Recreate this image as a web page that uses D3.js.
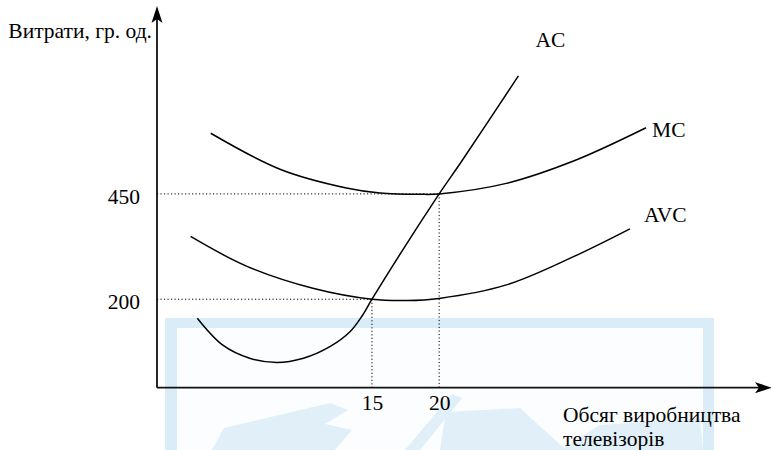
<!DOCTYPE html>
<html><head><meta charset="utf-8">
<script src="https://cdn.jsdelivr.net/npm/d3@7"></script>
<style>
body{margin:0;background:#fff}
svg{display:block;font-family:"Liberation Serif","DejaVu Serif",serif}
</style></head><body>
<div class="container"></div>
<script>
// values (quantity -> cost)
var mcQ  = [3, 8.2, 13.1, 15.6, 18.6, 20, 25, 30, 35.4];
var mcC  = [594, 508, 464, 452, 449, 450, 475, 528, 607];
var avcQ = [1.5, 5.7, 10.6, 15, 17.6, 20, 25, 30, 34.2];
var avcC = [349, 278, 226, 200, 197, 202, 234, 301, 367];
var acQ  = [2, 3.9, 5.9, 7.9, 9.9, 11.9, 13.4, 14.3, 15, 20, 21.6, 25.9];
var acC  = [155, 91, 60, 50, 60, 88, 124, 162, 200, 450, 524, 730];
var xTicks = [15, 20];
var yTicks = [200, 450];
var curveNames = ["MC", "AVC", "AC"];

var W = 771, H = 450;
var x = d3.scaleLinear().domain([-1, 44.7]).range([157, 771]);
var y = d3.scaleLinear().domain([-10, 896]).range([387.7, 6]);

function drawSVG(){
	return d3.select(".container").append("svg")
		.attr("width", W).attr("height", H);
}
var svg = drawSVG();

// faint watermark behind the chart
var wm = svg.append("g").attr("class", "watermark");
wm.append("rect").attr("x", 165).attr("y", 318).attr("width", 549).attr("height", 140)
	.attr("fill", "#d9ecf7");
wm.append("rect").attr("x", 177).attr("y", 328).attr("width", 526).attr("height", 130)
	.attr("fill", "#fbfdfe");
var blobs = [
	[[212,450],[224,428],[330,403],[348,410],[325,424],[352,430],[335,450]],
	[[405,450],[452,394],[462,398],[420,450]],
	[[440,450],[446,412],[520,408],[566,450]],
	[[560,450],[600,425],[700,418],[703,450]]
];
wm.selectAll("polygon").data(blobs).enter().append("polygon")
	.attr("points", function(d){ return d.join(" "); })
	.attr("fill", "#e0eff8");

// dotted guide lines
var guides = svg.append("g").attr("class", "guides")
	.attr("stroke", "#000").attr("stroke-width", 1).attr("stroke-dasharray", "1.2,2.3");
xTicks.forEach(function(q, i){
	var c = yTicks[i];
	guides.append("line").attr("x1", x(-1)).attr("x2", x(q)).attr("y1", y(c)).attr("y2", y(c));
	guides.append("line").attr("x1", x(q)).attr("x2", x(q)).attr("y1", y(c)).attr("y2", y(-10));
});

// curves
var line = d3.line().x(function(d){return x(d[0]);}).y(function(d){return y(d[1]);})
	.curve(d3.curveCatmullRom.alpha(0.5));
var series = [d3.zip(mcQ, mcC), d3.zip(avcQ, avcC), d3.zip(acQ, acC)];
svg.append("g").selectAll("path").data(series).enter().append("path")
	.attr("d", line).attr("fill", "none").attr("stroke", "#000").attr("stroke-width", 1.5);

// curve labels next to the last point of each curve
var labelOff = [[6, 9], [14, -7], [17, -29]];
svg.append("g").selectAll("text").data(series).enter().append("text")
	.attr("x", function(d, i){ return x(d[d.length-1][0]) + labelOff[i][0]; })
	.attr("y", function(d, i){ return y(d[d.length-1][1]) + labelOff[i][1]; })
	.attr("font-size", 21.5)
	.text(function(d, i){ return curveNames[i]; });

// axes
var axes = svg.append("g").attr("stroke", "#111").attr("stroke-width", 1.8);
axes.append("line").attr("x1", x(-1)).attr("x2", x(-1)).attr("y1", y(-10)).attr("y2", y(896) + 8);
axes.append("line").attr("x1", x(-1)).attr("x2", x(44.7) - 8).attr("y1", y(-10)).attr("y2", y(-10));
svg.append("path").attr("d", "M0,0L5.5,17L0,13L-5.5,17Z")
	.attr("transform", "translate(" + x(-1) + "," + y(896) + ")").attr("fill", "#000");
svg.append("path").attr("d", "M0,0L5.5,17L0,13L-5.5,17Z")
	.attr("transform", "translate(" + (x(44.7) + 1) + "," + y(-10) + ") rotate(90)").attr("fill", "#000");

var yAx = svg.append("g").attr("transform", "translate(" + x(-1) + ",0)")
	.call(d3.axisLeft(y).tickValues(yTicks).tickSize(0).tickPadding(17));
var xAx = svg.append("g").attr("transform", "translate(0," + y(-10) + ")")
	.call(d3.axisBottom(x).tickValues(xTicks).tickSize(0).tickPadding(7));
[yAx, xAx].forEach(function(g){
	g.attr("font-family", null).attr("font-size", null);
	g.select(".domain").remove();
	g.selectAll("text").attr("font-size", 21.5).attr("fill", "#000");
});
yAx.selectAll("text").attr("dy", "0.45em");

// axis titles
svg.append("text").attr("x", x(-1) - 5).attr("y", y(896) + 32)
	.attr("text-anchor", "end").attr("font-size", 21.5).text("Витрати, гр. од.");
var xt = svg.append("text").attr("x", x(44.7) - 208).attr("y", y(-10) + 34).attr("font-size", 21.5);
xt.append("tspan").text("Обсяг виробництва");
xt.append("tspan").attr("x", x(44.7) - 208).attr("dy", 24.5).text("телевізорів");
</script>
</body></html>
